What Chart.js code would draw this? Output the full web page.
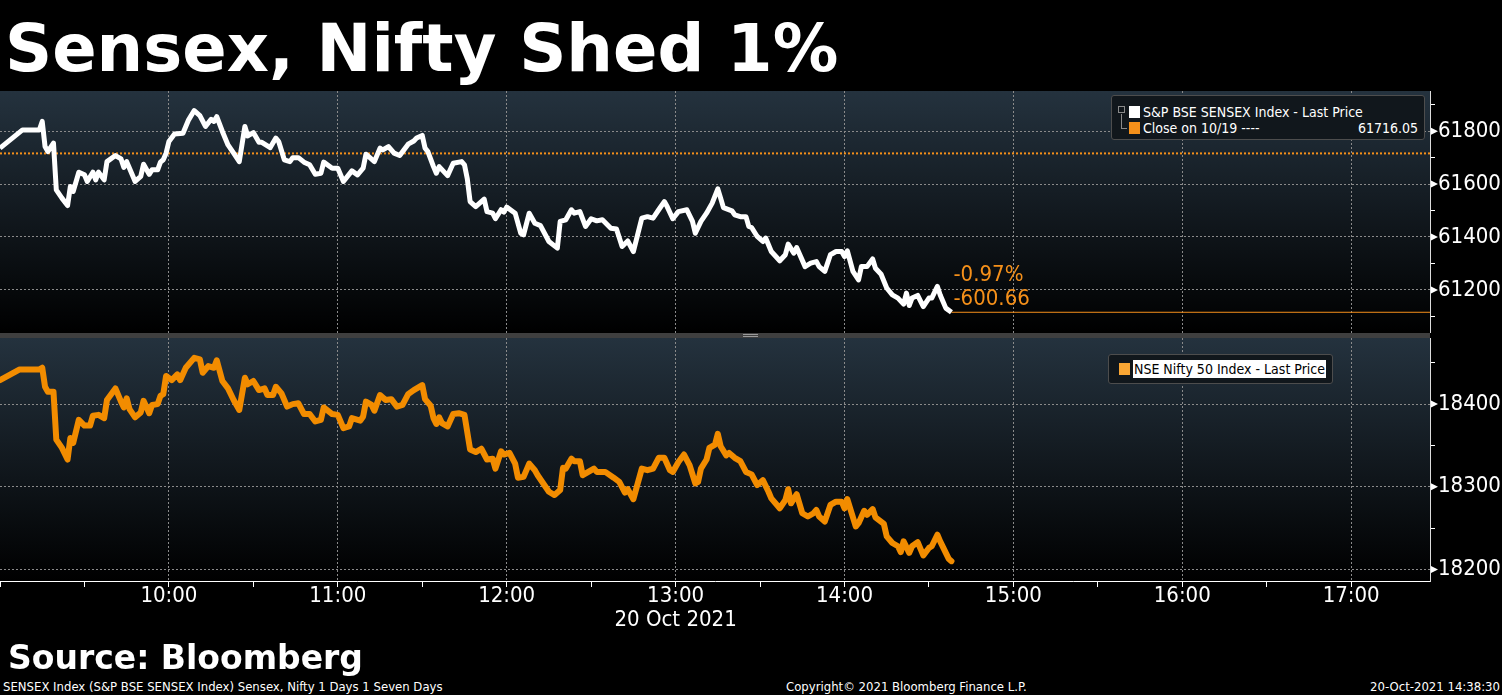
<!DOCTYPE html>
<html>
<head>
<meta charset="utf-8">
<title>Sensex, Nifty Shed 1%</title>
<script src="https://cdn.jsdelivr.net/npm/chart.js@4.4.1/dist/chart.umd.min.js"></script>
<style>
  html, body { margin: 0; padding: 0; background: #000; }
  body { width: 1502px; height: 695px; position: relative; overflow: hidden; color: #fff;
         font-family: 'DejaVu Sans Condensed', 'DejaVu Sans', sans-serif; }
  .abs { position: absolute; white-space: nowrap; }
  #title { left: 5px; top: 16px; font: bold 65.5px/1 'DejaVu Sans', sans-serif; }
  #top-wrap { left: 0; top: 91px; width: 1502px; height: 242px; }
  #bottom-wrap { left: 0; top: 338px; width: 1502px; height: 303px; }
  #divider { left: 0; top: 333px; width: 1430px; height: 5px; background: #3f3f3f; }
  #handle { left: 743px; top: 334px; width: 15px; height: 1px; border-top: 1px solid #9a9a9a; border-bottom: 1px solid #9a9a9a; }
  #source { left: 8px; top: 641px; font: bold 33px/1 'DejaVu Sans', sans-serif; }
  .foot { top: 680px; font-size: 13px; line-height: 1; }
  .legend { position: absolute; box-sizing: border-box; background: #11171c; border: 1px solid #4d4d4d; border-radius: 3px; font-size: 14px; }
  .legend div { position: absolute; white-space: nowrap; }
  .sw { width: 11px; height: 12px; }
</style>
</head>
<body>
<div id="title" class="abs">Sensex, Nifty Shed 1%</div>

<div id="top-wrap" class="abs"><canvas id="sensex-chart"></canvas></div>
<div id="divider" class="abs"></div>
<div id="handle" class="abs"></div>
<div id="bottom-wrap" class="abs"><canvas id="nifty-chart"></canvas></div>

<div class="legend" style="left:1111px; top:95px; width:314px; height:45px;">
  <div style="left:6px; top:10px; width:5px; height:5px; border:1px solid #8a8a8a;"></div>
  <div style="left:9px; top:18px; width:5px; height:14px; border-left:1px solid #8a8a8a; border-bottom:1px solid #8a8a8a;"></div>
  <div class="sw" style="left:17px; top:10px; background:#fff;"></div>
  <div style="left:31px; top:7px; line-height:18px;">S&amp;P BSE SENSEX Index - Last Price</div>
  <div class="sw" style="left:17px; top:26px; background:#f5901a;"></div>
  <div style="left:31px; top:23px; line-height:18px;">Close on 10/19 ----</div>
  <div id="close-value" style="right:6px; top:23px; line-height:18px;"></div>
</div>

<div class="legend" style="left:1108px; top:354px; width:225px; height:30px;">
  <div class="sw" style="left:10px; top:8px; background:#f9a634;"></div>
  <div style="left:24px; top:5px; height:18px; line-height:18px; padding:0 1px; background:#fff; color:#000;">NSE Nifty 50 Index - Last Price</div>
</div>

<div id="source" class="abs">Source: Bloomberg</div>
<div class="abs foot" style="left:3px;">SENSEX Index (S&amp;P BSE SENSEX Index) Sensex, Nifty 1 Days 1 Seven Days</div>
<div class="abs foot" style="left:786px;">Copyright© 2021 Bloomberg Finance L.P.</div>
<div class="abs foot" style="right:2px;">20-Oct-2021 14:38:30</div>

<script>
const sensexTimes = ['9:00','9:08','9:14','9:15','9:16','9:17','9:19','9:20','9:22','9:24','9:25','9:26','9:28','9:30','9:31','9:33','9:34','9:35','9:37','9:38',
    '9:41','9:43','9:44','9:45','9:46','9:48','9:50','9:51','9:53','9:54','9:56','9:57','9:58','9:59','10:00','10:02','10:05','10:07','10:09','10:11',
    '10:13','10:15','10:16','10:17','10:19','10:21','10:23','10:25','10:27','10:28','10:30','10:32','10:33','10:36','10:38','10:39','10:41','10:43','10:44','10:46',
    '10:48','10:50','10:52','10:54','10:55','10:58','11:00','11:02','11:05','11:07','11:09','11:10','11:13','11:15','11:16','11:18','11:20','11:22','11:25','11:27',
    '11:28','11:30','11:31','11:32','11:34','11:35','11:36','11:39','11:41','11:44','11:45','11:46','11:47','11:49','11:52','11:53','11:55','11:56','11:58','11:59',
    '12:00','12:03','12:05','12:06','12:08','12:10','12:12','12:15','12:18','12:19','12:21','12:23','12:24','12:26','12:28','12:30','12:32','12:34','12:37','12:39',
    '12:41','12:43','12:45','12:48','12:50','12:52','12:54','12:56','12:57','12:59','13:01','13:04','13:06','13:07','13:09','13:11','13:13','13:15','13:16','13:17',
    '13:20','13:21','13:23','13:25','13:26','13:27','13:29','13:31','13:32','13:34','13:37','13:39','13:40','13:42','13:43','13:46','13:48','13:50','13:51','13:53',
    '13:55','13:57','13:59','14:00','14:01','14:03','14:05','14:06','14:08','14:10','14:11','14:13','14:15','14:17','14:19','14:21','14:22','14:23','14:24','14:26',
    '14:28','14:30','14:31','14:33','14:34','14:36','14:38']
const sensexValues = [61736,61805,61805,61837,61742,61723,61755,61578,61547,61519,61591,61572,61645,61635,61610,61645,61616,61645,61616,61685,
    61708,61695,61663,61685,61660,61610,61629,61675,61637,61654,61654,61683,61692,61717,61761,61789,61792,61843,61878,61859,
    61818,61845,61837,61855,61799,61748,61717,61685,61818,61782,61795,61758,61758,61738,61774,61761,61692,61685,61700,61700,
    61683,61673,61637,61641,61683,61660,61660,61610,61650,61635,61660,61713,61685,61736,61729,61742,61717,61708,61751,61763,
    61774,61784,61736,61723,61666,61641,61666,61632,61679,61685,61673,61620,61534,61515,61543,61496,61490,61469,61503,61494,
    61513,61490,61414,61408,61490,61452,61443,61383,61358,61459,61465,61503,61490,61496,61440,61469,61461,61465,61433,61430,
    61364,61385,61345,61471,61477,61471,61503,61534,61515,61469,61496,61503,61459,61414,61459,61490,61528,61582,61547,61511,
    61499,61484,61477,61477,61440,61436,61402,61383,61396,61345,61310,61333,61373,61339,61360,61288,61301,61307,61288,61270,
    61333,61345,61345,61326,61348,61270,61238,61288,61288,61317,61282,61259,61207,61181,61169,61146,61188,61141,61169,61179,
    61137,61169,61169,61213,61181,61131,61115.39]
const sensexPrevClose = 61716.05

const niftyTimes = ['9:00','9:07','9:14','9:15','9:16','9:17','9:19','9:20','9:22','9:24','9:25','9:26','9:28','9:30','9:32','9:33','9:35','9:37','9:38','9:41',
    '9:43','9:44','9:45','9:46','9:48','9:50','9:51','9:53','9:54','9:56','9:57','9:58','9:59','10:01','10:03','10:04','10:06','10:09','10:11','10:12',
    '10:14','10:16','10:17','10:19','10:21','10:23','10:25','10:27','10:28','10:30','10:32','10:34','10:35','10:37','10:38','10:40','10:42','10:44','10:46','10:48',
    '10:50','10:52','10:54','10:55','10:58','11:00','11:02','11:04','11:05','11:08','11:09','11:10','11:12','11:13','11:15','11:17','11:19','11:21','11:23','11:25',
    '11:27','11:30','11:31','11:33','11:34','11:35','11:36','11:37','11:39','11:41','11:43','11:45','11:47','11:49','11:51','11:53','11:55','11:56','11:58','11:59',
    '12:01','12:03','12:04','12:06','12:08','12:10','12:11','12:13','12:15','12:17','12:19','12:20','12:21','12:23','12:24','12:26','12:27','12:31','12:32','12:35',
    '12:38','12:40','12:42','12:43','12:45','12:48','12:50','12:52','12:54','12:56','12:58','12:59','13:01','13:03','13:05','13:07','13:08','13:09','13:11','13:12',
    '13:14','13:15','13:16','13:18','13:19','13:21','13:23','13:25','13:27','13:29','13:31','13:33','13:34','13:37','13:39','13:40','13:41','13:43','13:45','13:47',
    '13:49','13:50','13:51','13:53','13:55','13:57','13:59','14:00','14:01','14:04','14:05','14:07','14:08','14:10','14:11','14:14','14:15','14:17','14:19','14:20',
    '14:21','14:23','14:24','14:26','14:28','14:30','14:31','14:33','14:34','14:37','14:38']
const niftyValues = [18429,18442,18442,18444,18421,18415,18415,18357,18347,18333,18359,18353,18381,18374,18374,18386,18387,18383,18405,18419,
    18403,18396,18407,18394,18384,18390,18404,18389,18399,18400,18410,18412,18434,18429,18436,18429,18444,18456,18454,18438,
    18446,18444,18453,18428,18419,18405,18393,18432,18424,18428,18417,18419,18411,18411,18421,18413,18397,18400,18401,18388,
    18388,18379,18381,18396,18388,18387,18371,18373,18383,18380,18385,18403,18399,18392,18411,18405,18406,18397,18399,18412,
    18417,18423,18406,18398,18383,18376,18384,18377,18373,18388,18389,18387,18345,18342,18346,18333,18334,18322,18343,18339,
    18341,18328,18311,18312,18328,18320,18314,18304,18294,18290,18296,18323,18322,18334,18331,18331,18314,18322,18318,18318,
    18311,18306,18293,18297,18285,18322,18320,18322,18335,18335,18320,18318,18330,18339,18326,18304,18306,18322,18333,18347,
    18351,18364,18349,18338,18341,18335,18331,18318,18315,18302,18308,18294,18286,18274,18284,18297,18280,18291,18268,18264,
    18268,18272,18264,18258,18278,18282,18282,18274,18285,18252,18256,18271,18266,18273,18263,18255,18240,18232,18228,18221,
    18234,18220,18228,18233,18217,18226,18228,18242,18234,18213,18210]

const hourLabels = ['10:00', '11:00', '12:00', '13:00', '14:00', '15:00', '16:00', '17:00']
const dateLabel = '20 Oct 2021'
const sensexTicks = [61100, 61200, 61300, 61400, 61500, 61600, 61700, 61800, 61900]
const sensexLabelled = [61200, 61400, 61600, 61800]
const niftyTicks = [18200, 18250, 18300, 18350, 18400, 18450]
const niftyLabelled = [18200, 18300, 18400]


const ORANGE = '#f5901a'
const GRID = '#8a8a8a'
const AXIS_FONT = { family: "'DejaVu Sans Condensed', 'DejaVu Sans', sans-serif", size: 22, lineHeight: 1.1 }

const toMin = t => { const [h, m] = t.split(':').map(Number); return h * 60 + m }
const fmtTime = v => Math.floor(v / 60) + ':' + String(v % 60).padStart(2, '0')
const X_MIN = toMin('9:00'), X_MAX = toMin('17:28')
const pts = (times, values) => times.map((t, i) => ({ x: toMin(t), y: values[i] }))

const lastT = toMin(sensexTimes[sensexTimes.length - 1])
const lastV = sensexValues[sensexValues.length - 1]
const change = lastV - sensexPrevClose
document.getElementById('close-value').textContent = sensexPrevClose.toFixed(2)

const panelBg = {
    id: 'panelBg',
    beforeDraw(chart) {
        const { ctx, chartArea: a } = chart
        const g = ctx.createLinearGradient(0, a.top, 0, a.bottom)
        g.addColorStop(0, '#24323e')
        g.addColorStop(1, '#000000')
        ctx.save()
        ctx.fillStyle = g
        ctx.fillRect(a.left, a.top, a.right - a.left, a.bottom - a.top)
        ctx.restore()
    }
}

// little white arrows on the labelled y ticks
const axisMarks = {
    id: 'axisMarks',
    afterDraw(chart, args, opts) {
        const { ctx, chartArea: a } = chart
        const y = chart.scales.y
        ctx.save()
        ctx.fillStyle = '#fff'
        opts.values.forEach(v => {
            const p = y.getPixelForValue(v)
            ctx.beginPath()
            ctx.moveTo(a.right + 1, p - 3.5)
            ctx.lineTo(a.right + 8, p)
            ctx.lineTo(a.right + 1, p + 3.5)
            ctx.closePath()
            ctx.fill()
        })
        ctx.restore()
    }
}

const changeLabel = {
    id: 'changeLabel',
    afterDatasetsDraw(chart) {
        const { ctx, scales: { x, y } } = chart
        const px = x.getPixelForValue(lastT) + 2
        const py = y.getPixelForValue(lastV)
        ctx.save()
        ctx.fillStyle = ORANGE
        ctx.font = `${AXIS_FONT.size}px ${AXIS_FONT.family}`
        ctx.textBaseline = 'middle'
        ctx.fillText((change / sensexPrevClose * 100).toFixed(2) + '%', px, py - 37)
        ctx.fillText(change.toFixed(2), px, py - 13)
        ctx.restore()
    }
}

function panelOptions(yMin, yMax, yTicks, yLabelled, showTime) {
    return {
        animation: false,
        maintainAspectRatio: false,
        responsive: true,
        layout: { padding: 0 },
        plugins: { legend: { display: false }, tooltip: { enabled: false }, axisMarks: { values: yLabelled } },
        elements: { point: { radius: 0 }, line: { tension: 0 } },
        scales: {
            x: {
                type: 'linear', min: X_MIN, max: X_MAX,
                afterBuildTicks: s => {
                    s.ticks = []
                    for (let v = X_MIN; v <= X_MAX; v += 30) s.ticks.push({ value: v })
                },
                afterFit: s => { s.height = showTime ? 60 : 0; s.paddingLeft = 0; s.paddingRight = 0 },
                grid: {
                    color: c => (c.tick && c.tick.value % 60 === 0 && c.tick.value > X_MIN) ? GRID : 'transparent',
                    drawTicks: showTime, tickLength: 6, tickColor: '#fff', tickBorderDash: []
                },
                border: { display: showTime, color: '#fff', width: 1, dash: [2, 2] },
                ticks: {
                    display: showTime, autoSkip: false, maxRotation: 0, color: '#fff', font: AXIS_FONT, padding: -3,
                    callback: v => {
                        const label = fmtTime(v).padStart(5, '0')
                        if (!hourLabels.includes(label)) return ''
                        return label === '13:00' ? [label, dateLabel] : label
                    }
                }
            },
            y: {
                position: 'right', min: yMin, max: yMax,
                afterBuildTicks: s => { s.ticks = yTicks.map(v => ({ value: v })) },
                afterFit: s => { s.width = 72; s.paddingTop = 0; s.paddingBottom = 0 },
                grid: {
                    color: c => (c.tick && yLabelled.includes(c.tick.value)) ? GRID : 'transparent',
                    tickColor: c => (c.tick && yLabelled.includes(c.tick.value)) ? 'transparent' : '#fff',
                    tickLength: 5, tickBorderDash: []
                },
                border: { display: true, color: '#dcdcdc', width: 1, dash: [2, 2] },
                ticks: {
                    autoSkip: false, color: '#fff', font: AXIS_FONT, padding: 3,
                    callback: v => yLabelled.includes(v) ? String(v) : ''
                }
            }
        }
    }
}


new Chart(document.getElementById('sensex-chart'), {
    type: 'line',
    data: {
        datasets: [{
            label: 'S&P BSE SENSEX Index - Last Price',
            data: pts(sensexTimes, sensexValues),
            borderColor: '#fff',
            borderWidth: 5,
            borderJoinStyle: 'round'},
            {
            label: 'Close on 10/19',
            data: [{ x: X_MIN, y: sensexPrevClose }, { x: X_MAX, y: sensexPrevClose }],
            borderColor: ORANGE,
            borderWidth: 2,
            borderDash: [2, 2]},
            {
            label: 'Last',
            data: [{ x: lastT, y: lastV }, { x: X_MAX, y: lastV }],
            borderColor: ORANGE,
            borderWidth: 1}
        ]},
    options: panelOptions(61037, 61952, sensexTicks, sensexLabelled, false),
    plugins: [panelBg, axisMarks, changeLabel]
})

new Chart(document.getElementById('nifty-chart'), {
    type: 'line',
    data: {
        datasets: [{
            label: 'NSE Nifty 50 Index - Last Price',
            data: pts(niftyTimes, niftyValues),
            borderColor: '#f28c00',
            borderWidth: 6,
            borderJoinStyle: 'round',
            borderCapStyle: 'round'}
        ]},
    options: panelOptions(18186, 18480, niftyTicks, niftyLabelled, true),
    plugins: [panelBg, axisMarks]
})
</script>
</body>
</html>
